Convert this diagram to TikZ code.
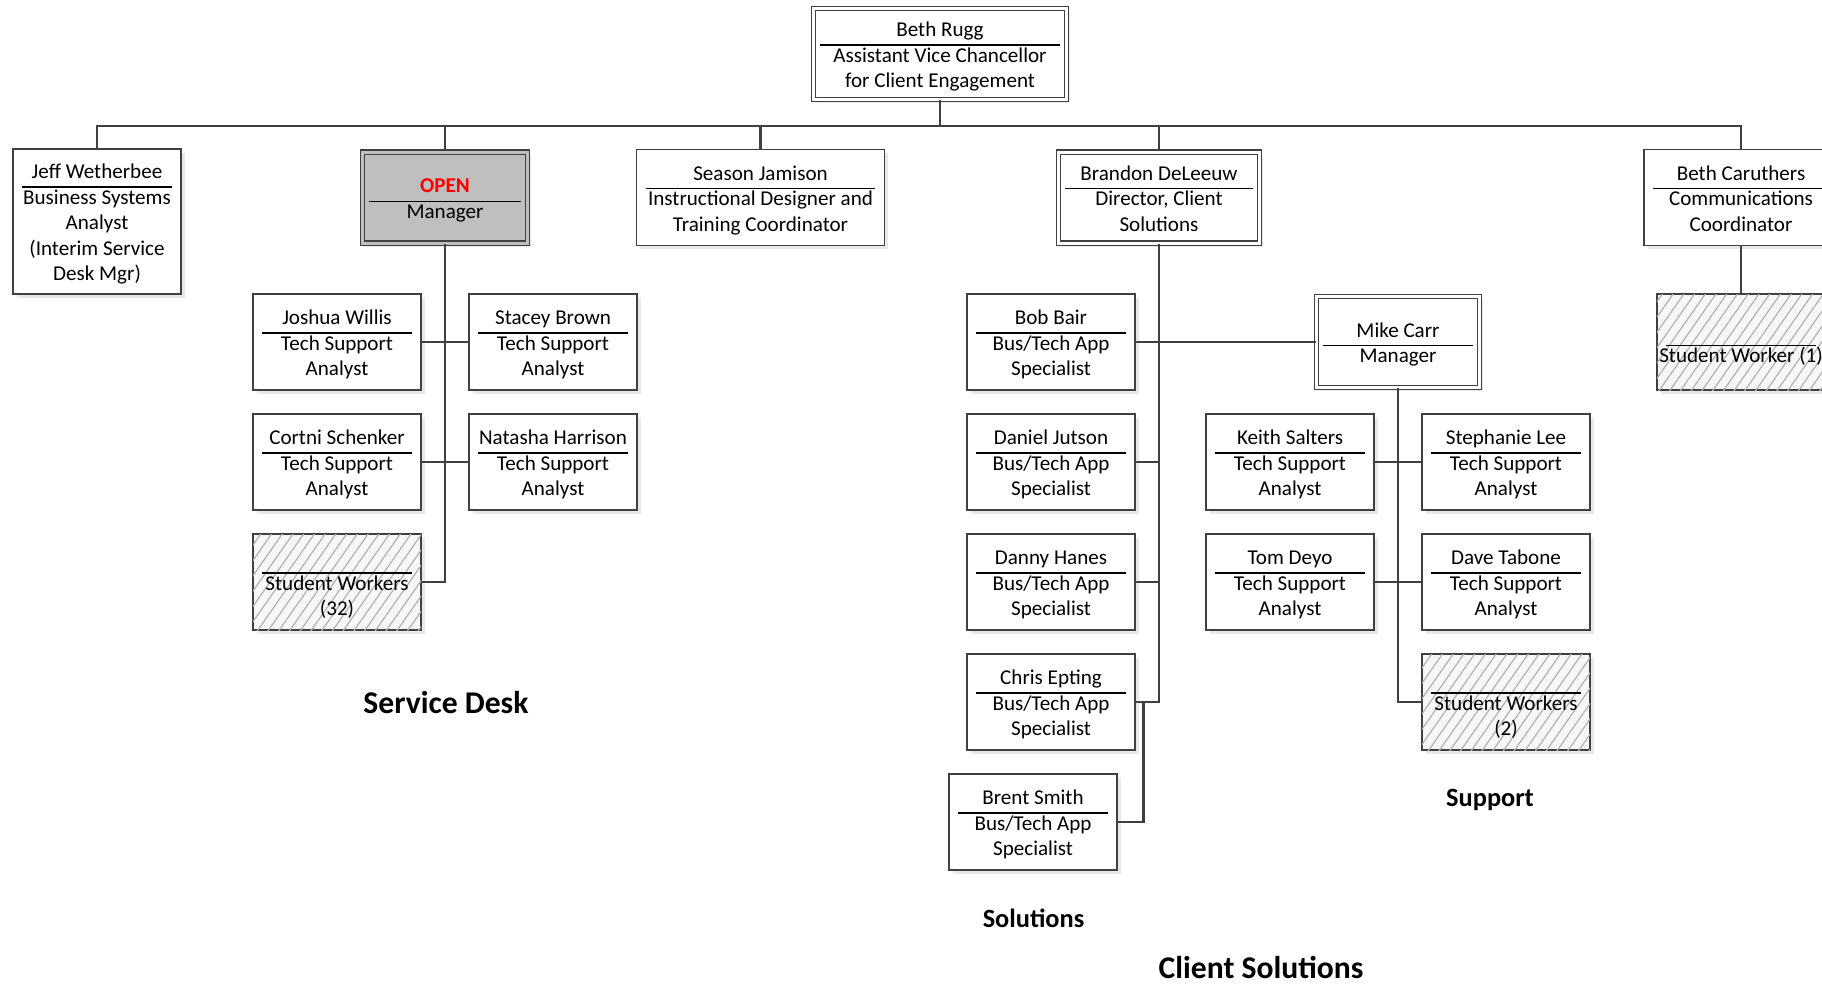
\documentclass[tikz,border=0pt]{standalone}
\usepackage{fontspec}
\setmainfont{Carlito}
\usepackage{array}
\usetikzlibrary{positioning,shadows,patterns.meta}

\newcolumntype{C}[1]{>{\centering\arraybackslash}p{#1}}
\newcommand{\card}[3]{\raisebox{0pt}[\dimexpr\height+3.5pt\relax]{%
  \begin{tabular}{@{}C{#1}@{}}#2\\\hline\noalign{\vskip-0.8pt}#3\end{tabular}}}
\setlength{\arrayrulewidth}{0.8pt}

\begin{document}
\begin{tikzpicture}[node distance=2.4cm,on grid,
    card/.style={rectangle, draw=black!75, line width=0.8pt, fill=white,
      inner xsep=0.18cm, inner ysep=0pt, minimum height=1.92cm,
      font=\fontsize{12}{14.5}\selectfont,
      drop shadow={shadow xshift=0.07cm, shadow yshift=-0.07cm, opacity=0.18}},
    lead/.style={double, double distance=0.06cm, inner xsep=0.13cm, minimum height=1.82cm},
    vacant/.style={fill=black!25, double=black!25},
    hatch/.style={fill=black!3, postaction={pattern color=black!30,
      pattern={Lines[angle=55,distance=5pt,line width=0.7pt]}}},
    conn/.style={draw=black!75, line width=1.4pt},
    elbow/.style={to path={|- (\tikztotarget)}},
    hv/.style={to path={-| (\tikztotarget)}},
    team/.style={font=\fontsize{18}{20}\selectfont\bfseries},
    unit/.style={font=\fontsize{15}{17}\selectfont\bfseries}]
  \useasboundingbox (0,0) rectangle (36.44,-19.66);

  % top level
  \node[card, lead] (rugg) at (18.8,-1.08) {\card{4.8cm}{Beth Rugg}{Assistant Vice Chancellor\\for Client Engagement}};
  \node[card, minimum height=2.9cm] (jeff) at (1.94,-4.43) {\card{3cm}{Jeff Wetherbee}{Business Systems\\Analyst\\(Interim Service\\Desk Mgr)}};
  \node[card, lead, vacant] (openmgr) at (8.9,-3.95) {\card{3.04cm}{\textcolor{red}{\bfseries OPEN}}{Manager}};
  \node[card] (jamison) at (15.21,-3.95) {\card{4.59cm}{Season Jamison}{Instructional Designer and\\Training Coordinator}};
  \node[card, lead] (deleeuw) at (23.18,-3.95) {\card{3.76cm}{Brandon DeLeeuw}{Director, Client\\Solutions}};
  \node[card] (caruthers) at (34.82,-3.95) {\card{3.52cm}{Beth Caruthers}{Communications\\Coordinator}};
  \node[card, hatch] (studentone) [below=2.89cm of caruthers] {\card{3cm}{}{\makebox[3cm]{Student Worker (1)}}};

  % service desk
  \node[card] (willis) [below left=2.89cm and 2.16cm of openmgr] {\card{3cm}{Joshua Willis}{Tech Support\\Analyst}};
  \node[card] (brown) [right=4.32cm of willis] {\card{3cm}{Stacey Brown}{Tech Support\\Analyst}};
  \node[card] (schenker) [below=of willis] {\card{3cm}{Cortni Schenker}{Tech Support\\Analyst}};
  \node[card] (harrison) [below=of brown] {\card{3cm}{Natasha Harrison}{Tech Support\\Analyst}};
  \node[card, hatch] (sdstudents) [below=of schenker] {\card{3cm}{}{Student Workers\\(32)}};

  % solutions
  \node[card] (bair) [below left=2.89cm and 2.16cm of deleeuw] {\card{3cm}{Bob Bair}{Bus/Tech App\\Specialist}};
  \node[card] (jutson) [below=of bair] {\card{3cm}{Daniel Jutson}{Bus/Tech App\\Specialist}};
  \node[card] (hanes) [below=of jutson] {\card{3cm}{Danny Hanes}{Bus/Tech App\\Specialist}};
  \node[card] (epting) [below=of hanes] {\card{3cm}{Chris Epting}{Bus/Tech App\\Specialist}};
  \node[card] (smith) [below left=2.4cm and 0.36cm of epting] {\card{3cm}{Brent Smith}{Bus/Tech App\\Specialist}};
  \coordinate (eptingtap) at ([xshift=0.16cm]epting.east);

  % support
  \node[card, lead] (carr) [right=6.94cm of bair] {\card{3cm}{Mike Carr}{Manager}};
  \node[card] (salters) [below left=2.4cm and 2.16cm of carr] {\card{3cm}{Keith Salters}{Tech Support\\Analyst}};
  \node[card] (lee) [right=4.32cm of salters] {\card{3cm}{Stephanie Lee}{Tech Support\\Analyst}};
  \node[card] (deyo) [below=of salters] {\card{3cm}{Tom Deyo}{Tech Support\\Analyst}};
  \node[card] (tabone) [below=of lee] {\card{3cm}{Dave Tabone}{Tech Support\\Analyst}};
  \node[card, hatch] (supstudents) [below=of tabone] {\card{3cm}{}{Student Workers\\(2)}};

  % group labels
  \node[team] (sdlabel) at (8.92,-14.06) {Service Desk};
  \node[unit] (sollabel) at (20.67,-18.36) {Solutions};
  \node[unit] (suplabel) at (29.8,-16.0) {Support};
  \node[team] (cslabel) at (25.22,-19.34) {Client Solutions};

  \foreach \n in {jeff,openmgr,jamison,deleeuw,caruthers}
    \draw[conn] (rugg.south) -- ++(0,-0.52) -| (\n.north);

  \path[conn]
    (openmgr) edge[elbow] (sdstudents)
    (willis) edge (brown)
    (schenker) edge (harrison)
    (deleeuw) edge[elbow] (epting)
    (bair) edge (carr)
    (jutson) edge (jutson -| deleeuw)
    (hanes) edge (hanes -| deleeuw)
    (smith) edge[hv] (eptingtap)
    (carr) edge[elbow] (supstudents)
    (salters) edge (lee)
    (deyo) edge (tabone)
    (caruthers) edge (studentone)
    ;
\end{tikzpicture}
\end{document}
